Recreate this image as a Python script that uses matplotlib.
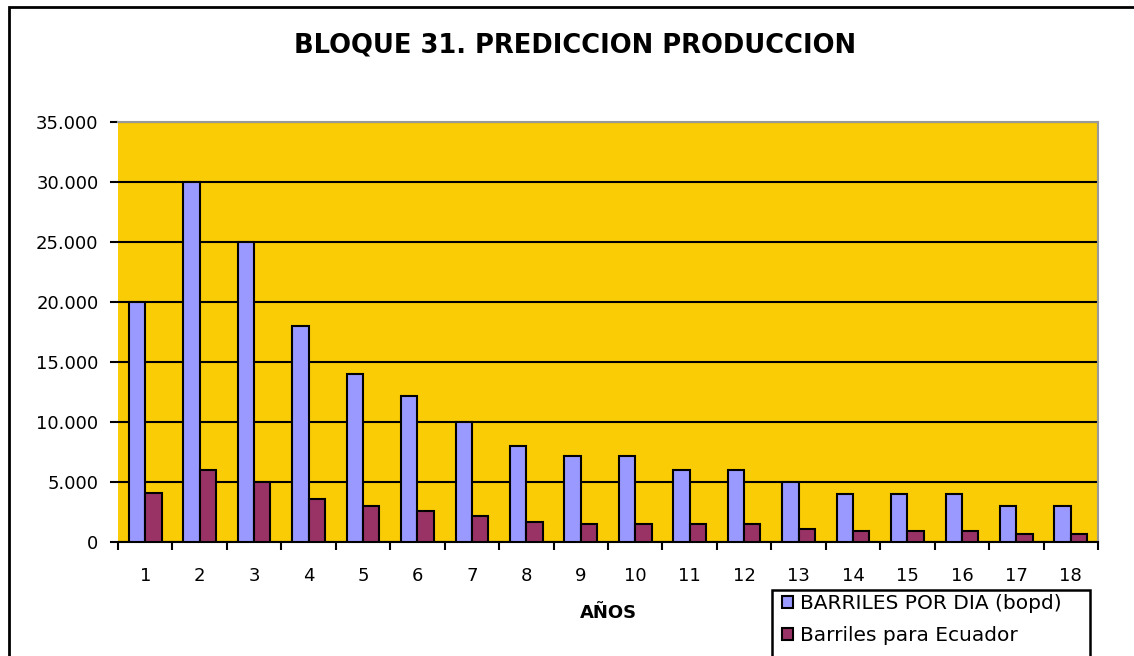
import matplotlib.pyplot as plt
from matplotlib.patches import Rectangle
import numpy as np

# Bloque 31 - prediccion de produccion por año
anios = [str(i) for i in range(1, 19)]
barriles_dia = [20000, 30000, 25000, 18000, 14000, 12200, 10000, 8000, 7200,
                7200, 6000, 6000, 5000, 4000, 4000, 4000, 3000, 3000]
barriles_ecuador = [4100, 6000, 5000, 3600, 3000, 2600, 2200, 1700, 1500,
                    1500, 1500, 1500, 1100, 900, 900, 900, 700, 700]
yticks = [0, 5000, 10000, 15000, 20000, 25000, 30000, 35000]
ylabels = ["0", "5.000", "10.000", "15.000", "20.000", "25.000", "30.000", "35.000"]

plt.rcParams['font.family'] = ['DejaVu Sans']

fig = plt.figure(figsize=(11.34, 6.56), dpi=100)
ax = fig.add_axes([118/1134, 114/656, 980/1134, 420/656])
ax.set_facecolor('#FACC05')

x = np.arange(len(anios))
w = 0.30
ax.bar(x - w/2, barriles_dia, w, color='#9999FF', edgecolor='black', linewidth=1.5,
       zorder=3, label='BARRILES POR DIA (bopd)')
ax.bar(x + w/2, barriles_ecuador, w, color='#993366', edgecolor='black', linewidth=1.5,
       zorder=3, label='Barriles para Ecuador')

ax.set_xlim(-0.5, len(anios) - 0.5)
ax.set_ylim(0, 35000)
ax.set_yticks(yticks)
ax.set_yticklabels(ylabels)
ax.set_xticks(x)
ax.set_xticklabels(anios)
ax.set_xticks(np.arange(-0.5, len(anios)), minor=True)
ax.grid(axis='y', color='black', linewidth=1.5, zorder=1)
ax.set_axisbelow(True)

ax.tick_params(axis='y', length=6, width=1.5, pad=8, labelsize=13, direction='out')
ax.tick_params(axis='x', which='major', length=0, pad=18, labelsize=13)
ax.tick_params(axis='x', which='minor', length=6, width=1.5, direction='out')

ax.spines['left'].set_visible(False)
ax.spines['bottom'].set_linewidth(1.5)
ax.spines['top'].set_color('#999999')
ax.spines['right'].set_color('#999999')
ax.spines['top'].set_linewidth(1.5)
ax.spines['right'].set_linewidth(1.5)

ax.set_xlabel('AÑOS', fontsize=13, fontweight='bold', labelpad=14)
fig.text(575/1134, 1 - 45/656, 'BLOQUE 31. PREDICCION PRODUCCION', ha='center', va='center',
         fontsize=18.5, fontweight='bold')

# marco del grafico
fig.patches.append(Rectangle((9/1134, -0.1), 1.2, 1 - 7/656 + 0.1, transform=fig.transFigure,
                             fill=False, edgecolor='black', linewidth=2))

# leyenda con su recuadro, que sigue por debajo del borde
fig.patches.append(Rectangle((772/1134, -0.05), (1090 - 772)/1134, 0.05 + 1 - 590/656,
                             transform=fig.transFigure, fill=False, edgecolor='black',
                             linewidth=1.8))
fig.legend(loc='upper left', bbox_to_anchor=(778/1134, 1 - 590/656), fontsize=14.5,
           frameon=False, handlelength=0.55, handleheight=0.55, handletextpad=0.35,
           borderpad=0.2, labelspacing=0.65, borderaxespad=0)

fig.savefig('out.png', dpi=100)
